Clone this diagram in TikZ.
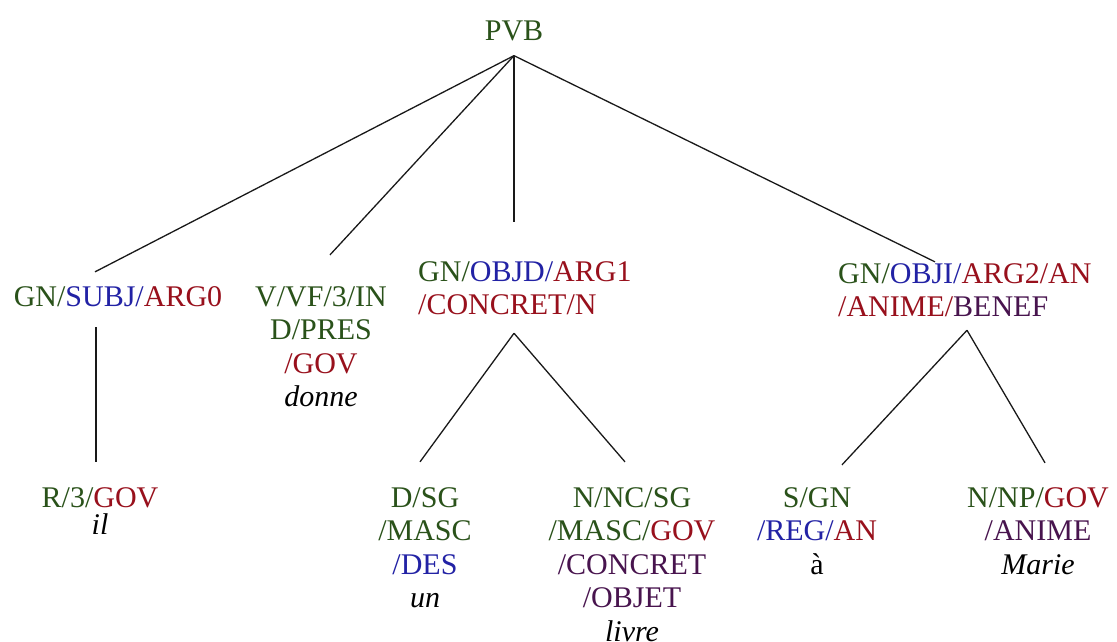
\documentclass[tikz,border=0pt]{standalone}
\usepackage{fontspec}
\setmainfont{Liberation Serif}
\usetikzlibrary{calc}

\definecolor{catgreen}{RGB}{42,82,26}
\definecolor{fnblue}{RGB}{34,34,165}
\definecolor{semred}{RGB}{152,16,28}
\definecolor{semplum}{RGB}{72,20,78}

\newcommand{\cG}[1]{\textcolor{catgreen}{#1}}
\newcommand{\cB}[1]{\textcolor{fnblue}{#1}}
\newcommand{\cR}[1]{\textcolor{semred}{#1}}
\newcommand{\cP}[1]{\textcolor{semplum}{#1}}

% centred and left-aligned label blocks; the node base is the first line's baseline
\newcommand{\ctab}[1]{\begin{tabular}[t]{@{}c@{}}#1\end{tabular}}
\newcommand{\ltab}[1]{\begin{tabular}[t]{@{}l@{}}#1\end{tabular}}

\tikzset{
  lab/.style={anchor=base, inner sep=0pt, font=\fontsize{30}{33.5}\selectfont},
  labw/.style={lab, anchor=base west},
  branch/.style={draw=black!90, line width=1.3pt}
}

\begin{document}
\begin{tikzpicture}[x=1pt, y=-1pt]
\fill[white] (0,0) rectangle (1117,641);
\useasboundingbox (0,0) rectangle (1117,641);

% root
\node[lab] (pvb) at (514,40) {\cG{PVB}};

% phrase level
\node[lab] (subj) at (118,306) {\ctab{\cG{GN/}\cB{SUBJ/}\cR{ARG0}}};
\node[lab] (verb) at (321,306) {\ctab{\cG{V/VF/3/IN}\\ \cG{D/PRES}\\ \cR{/GOV}\\ \textit{donne}}};
\node[labw] (objd) at (418,281) {\ltab{\cG{GN/}\cB{OBJD/}\cR{ARG1}\\ \cR{/CONCRET/N}}};
\node[labw] (obji) at (838,283) {\ltab{\cG{GN/}\cB{OBJI/}\cR{ARG2/AN}\\ \cR{/ANIME/}\cP{BENEF}}};

% word level
\node[lab] (pron) at (100,507) {\ctab{\cG{R/3/}\cR{GOV}\\[-6pt] \textit{il}}};
\node[lab] (det)  at (425,507) {\ctab{\cG{D/SG}\\ \cG{/MASC}\\ \cB{/DES}\\ \textit{un}}};
\node[lab] (noun) at (632,507) {\ctab{\cG{N/NC/SG}\\ \cG{/MASC/}\cR{GOV}\\ \cP{/CONCRET}\\ \cP{/OBJET}\\ \textit{livre}}};
\node[lab] (prep) at (817,507) {\ctab{\cG{S/GN}\\ \cB{/REG/}\cR{AN}\\ à}};
\node[lab] (np)   at (1038,507) {\ctab{\cG{N/NP/}\cR{GOV}\\ \cP{/ANIME}\\ \textit{Marie}}};

% branches from the root
\coordinate (pvbfoot) at ($(pvb.south)+(0,15)$);
\draw[branch] (pvbfoot) -- ($(subj.north)+(-23,-10.5)$);
\draw[branch] (pvbfoot) -- ($(verb.north)+(9,-27.5)$);
\draw[branch] (pvbfoot) -- ($(objd.north west)+(96,-35.5)$);
\draw[branch] (pvbfoot) -- ($(obji.north west)+(97,2.5)$);

% subject
\draw[branch] ($(subj.south)+(-22,11)$) -- ($(pron.north)+(-4,-21.5)$);

% direct object
\coordinate (objdfoot) at ($(objd.south west)+(96,8.5)$);
\draw[branch] (objdfoot) -- ($(det.north)+(-5,-21.5)$);
\draw[branch] (objdfoot) -- ($(noun.north)+(-7,-21.5)$);

% indirect object
\coordinate (objifoot) at ($(obji.south west)+(129,3.5)$);
\draw[branch] (objifoot) -- ($(prep.north)+(25,-18.5)$);
\draw[branch] (objifoot) -- ($(np.north)+(7,-20.5)$);
\end{tikzpicture}
\end{document}
